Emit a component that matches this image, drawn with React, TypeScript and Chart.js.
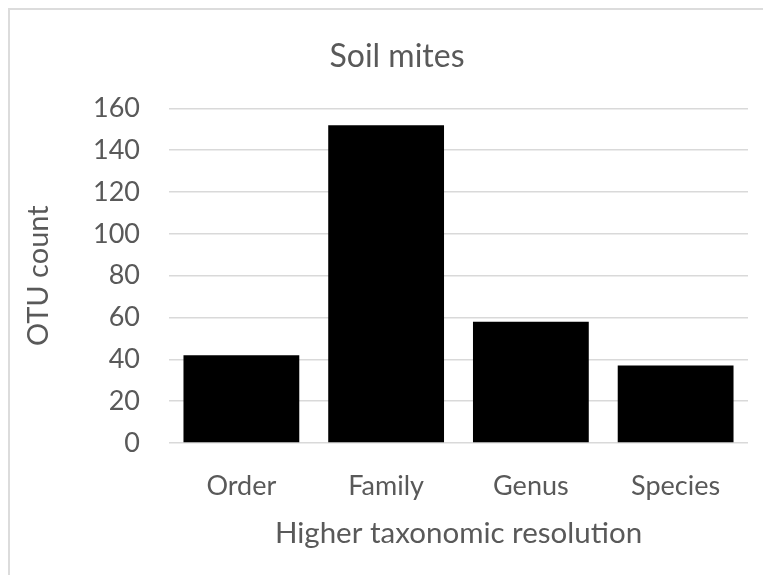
import React, { useEffect, useRef } from "react";
import { Chart, registerables } from "chart.js";

Chart.register(...registerables);

const categories = ["Order", "Family", "Genus", "Species"];
const otuCounts = [42, 152, 58, 37];
const yMin = 0;
const yMax = 160;
const yStep = 20;

const chartTitle = "Soil mites";
const xTitle = "Higher taxonomic resolution";
const yTitle = "OTU count";

const FONT = "Lato, 'Open Sans', sans-serif";
const TEXT = "#595959";
const GRID = "#d9d9d9";

export default function App() {
  const ref = useRef<HTMLCanvasElement | null>(null);

  useEffect(() => {
    if (!ref.current) return;
    document.body.style.overflow = "hidden";
    document.documentElement.style.overflow = "hidden";
    const chart = new Chart(ref.current, {
      type: "bar",
      data: {
        labels: categories,
        datasets: [
          {
            data: otuCounts,
            backgroundColor: "#000000",
            borderWidth: 0,
            barPercentage: 0.8,
            categoryPercentage: 1,
          },
        ],
      },
      options: {
        animation: false,
        responsive: false,
        maintainAspectRatio: false,
        layout: { padding: { left: 36, right: 0, top: 0, bottom: 0 } },
        plugins: {
          legend: { display: false },
          tooltip: { enabled: false },
          title: {
            display: true,
            text: chartTitle,
            color: TEXT,
            font: { family: FONT, size: 32, weight: "normal", lineHeight: 1.2 },
            padding: { top: 27, bottom: 33 },
          },
        },
        scales: {
          x: {
            grid: { display: false, drawTicks: false },
            border: { display: false },
            ticks: {
              color: TEXT,
              font: { family: FONT, size: 27, lineHeight: 1.2 },
              padding: 27,
              maxRotation: 0,
            },
            title: {
              display: true,
              text: xTitle,
              color: TEXT,
              font: { family: FONT, size: 29.5, lineHeight: 1.2 },
              padding: { top: 0, bottom: 24 },
            },
            afterFit: (s: any) => {
              s.height = 132;
            },
          },
          y: {
            min: yMin,
            max: yMax,
            grid: { color: GRID, lineWidth: 1.5, drawTicks: false },
            border: { display: false },
            ticks: {
              stepSize: yStep,
              color: TEXT,
              font: { family: FONT, size: 27, lineHeight: 1.2 },
              padding: 29,
            },
            title: {
              display: true,
              text: yTitle,
              color: TEXT,
              font: { family: FONT, size: 29, lineHeight: 1.2 },
              padding: { top: -25, bottom: 0 },
            },
            afterFit: (s: any) => {
              s.width = 123;
            },
          },
        },
      },
    });
    return () => chart.destroy();
  }, []);

  return (
    <div
      style={{
        position: "fixed",
        left: 0,
        top: 0,
        width: 763,
        height: 575,
        overflow: "hidden",
        background: "#ffffff",
      }}
    >
      <div
        style={{
          position: "absolute",
          left: 8,
          top: 8,
          width: 800,
          height: 600,
          borderLeft: "2px solid #dcdcdc",
          borderTop: "2px solid #dcdcdc",
        }}
      >
        <canvas ref={ref} width={738} height={565} style={{ display: "block" }} />
      </div>
    </div>
  );
}
